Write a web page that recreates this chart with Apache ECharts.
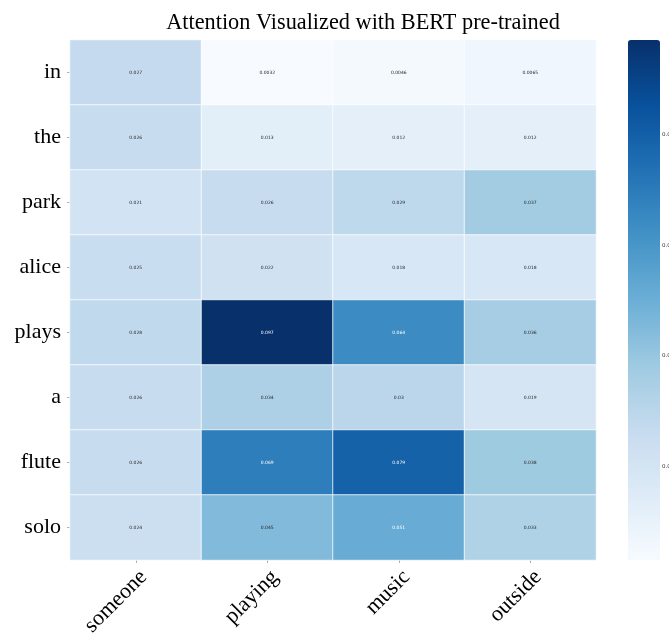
<!DOCTYPE html>
<html>
<head>
<meta charset="utf-8">
<script src="https://cdn.jsdelivr.net/npm/echarts@6/dist/echarts.min.js"></script>
<style>
  html, body { margin: 0; padding: 0; background: #fff; }
  #chart { width: 669px; height: 639px; }
</style>
</head>
<body>
<div id="chart"></div>
<script>
// Target words (columns) and source tokens (rows, top to bottom)
const columns = ['someone', 'playing', 'music', 'outside'];
const rows = ['in', 'the', 'park', 'alice', 'plays', 'a', 'flute', 'solo'];

// Attention weights, one list per row token
const wIn    = [0.027, 0.0032, 0.0046, 0.0065];
const wThe   = [0.026, 0.013, 0.012, 0.012];
const wPark  = [0.021, 0.026, 0.029, 0.037];
const wAlice = [0.025, 0.022, 0.018, 0.018];
const wPlays = [0.028, 0.097, 0.064, 0.036];
const wA     = [0.026, 0.034, 0.03, 0.019];
const wFlute = [0.026, 0.069, 0.079, 0.038];
const wSolo  = [0.024, 0.045, 0.051, 0.033];

// Colour bar tick values
const barTicks = [0.02, 0.04, 0.06, 0.08];

const weightRows = [wIn, wThe, wPark, wAlice, wPlays, wA, wFlute, wSolo];
const cells = [];
weightRows.forEach((row, r) => row.forEach((v, c) => cells.push([c, r, v])));
const allVals = cells.map(d => d[2]);
const vMin = Math.min(...allVals);
const vMax = Math.max(...allVals);

// matplotlib "Blues"
const blues = ['#f7fbff', '#deebf7', '#c6dbef', '#9ecae1', '#6baed6',
               '#4292c6', '#2171b5', '#08519c', '#08306b'];

const serif = "'Liberation Serif', 'DejaVu Serif', serif";
const sans = "'DejaVu Sans', sans-serif";

// Light text on the darker half of the colour range
const cellData = cells.map(d => ({
  value: d,
  label: { color: d[2] > (vMin + vMax) / 2 - 0.001 ? '#ffffff' : '#262626' }
}));

const chart = echarts.init(document.getElementById('chart'), null, { renderer: 'canvas' });
chart.setOption({
  animation: false,
  backgroundColor: '#ffffff',
  title: {
    text: 'Attention Visualized with BERT pre-trained',
    left: 358,
    textAlign: 'center',
    top: 7,
    textStyle: { fontFamily: serif, fontSize: 22.3, fontWeight: 'normal', color: '#000' }
  },
  grid: [
    { left: 70, top: 40, width: 526, height: 520, outerBoundsMode: 'none', containLabel: false },
    { left: 628, top: 40, width: 32, height: 520, outerBoundsMode: 'none', containLabel: false }
  ],
  xAxis: [
    {
      type: 'category',
      data: columns,
      gridIndex: 0,
      position: 'bottom',
      axisLine: { show: false },
      axisTick: { show: true, alignWithLabel: true, length: 3, lineStyle: { color: '#b0b0b0', width: 1 } },
      splitArea: { show: false },
      axisLabel: {
        rotate: 45,
        margin: 6,
        verticalAlign: 'top',
        fontFamily: serif,
        fontSize: 22,
        color: '#000'
      }
    },
    { type: 'value', gridIndex: 1, show: false, min: 0, max: 1 }
  ],
  yAxis: [
    {
      type: 'category',
      data: rows,
      inverse: true,
      gridIndex: 0,
      axisLine: { show: false },
      axisTick: { show: true, alignWithLabel: true, length: 3, lineStyle: { color: '#b0b0b0', width: 1 } },
      splitArea: { show: false },
      axisLabel: { margin: 9, fontFamily: serif, fontSize: 22, color: '#000' }
    },
    {
      type: 'value',
      gridIndex: 1,
      position: 'right',
      min: vMin,
      max: vMax,
      axisLine: { show: false },
      splitLine: { show: false },
      axisTick: { show: true, length: 3, customValues: barTicks, lineStyle: { color: '#666', width: 1 } },
      axisLabel: {
        customValues: barTicks,
        margin: 2,
        fontSize: 5.5,
        color: '#333',
        fontFamily: sans,
        formatter: v => v.toFixed(2)
      }
    }
  ],
  visualMap: {
    type: 'continuous',
    min: vMin,
    max: vMax,
    seriesIndex: 0,
    calculable: false,
    show: true,
    left: 628,
    top: 40,
    itemWidth: 32,
    itemHeight: 520,
    padding: 0,
    text: null,
    showLabel: false,
    inRange: { color: blues }
  },
  series: [{
    type: 'heatmap',
    xAxisIndex: 0,
    yAxisIndex: 0,
    data: cellData,
    itemStyle: { borderColor: 'rgba(255,255,255,0.75)', borderWidth: 1 },
    label: {
      show: true,
      fontSize: 4.5,
      fontFamily: sans,
      formatter: p => String(p.value[2]),
      color: '#262626'
    },
    emphasis: { disabled: true }
  }]
});
</script>
</body>
</html>
